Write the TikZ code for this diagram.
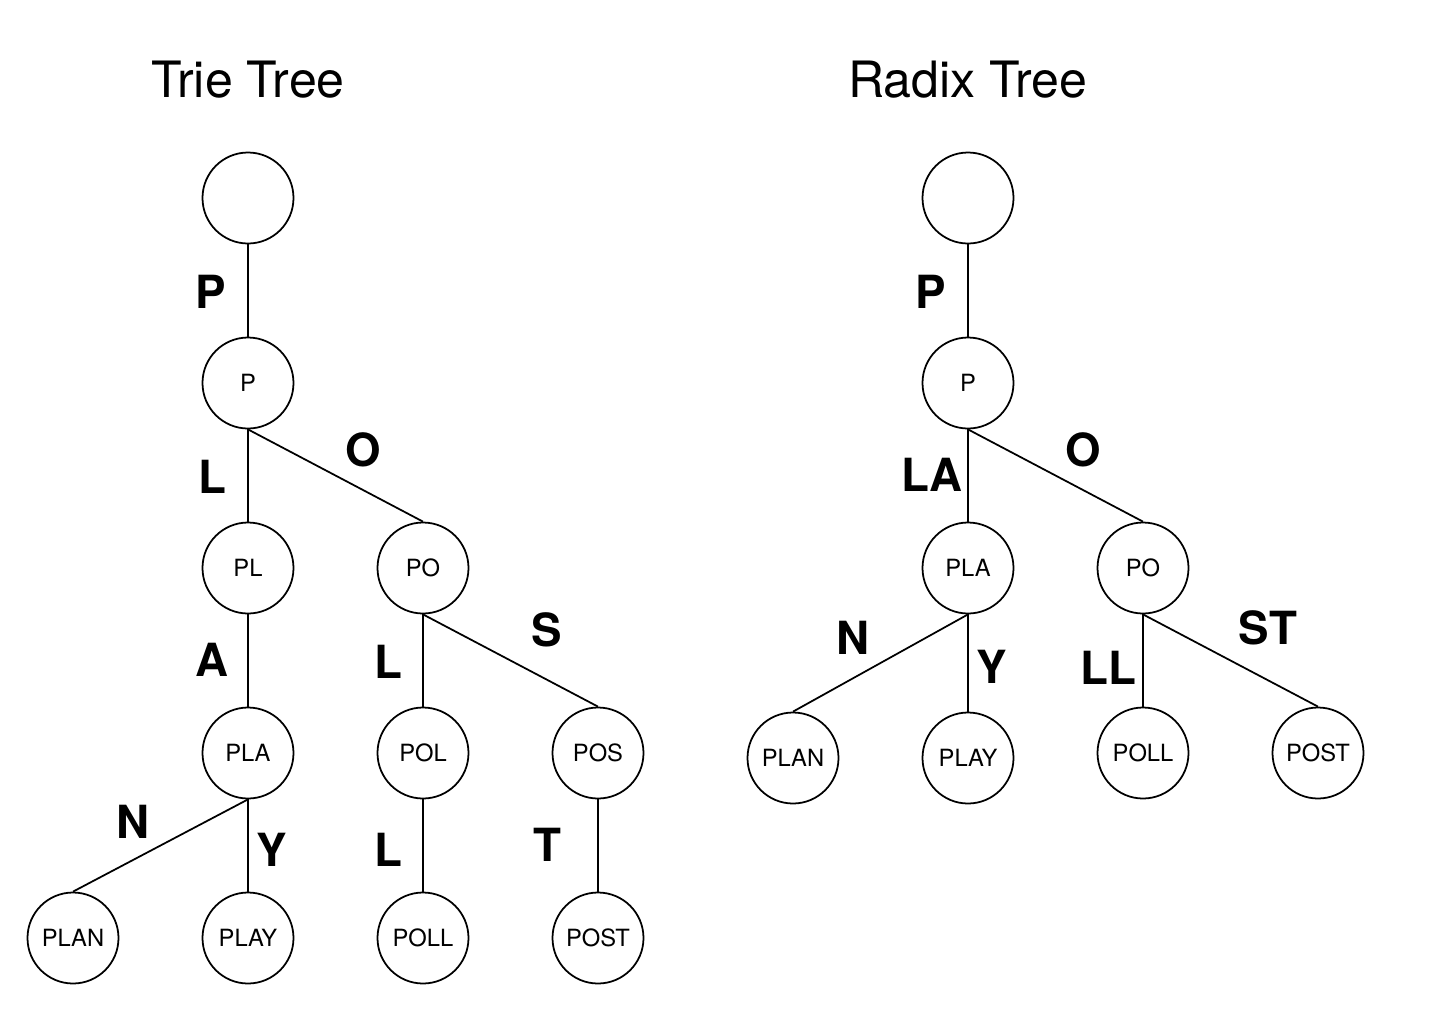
\documentclass[tikz,border=0pt]{standalone}
\usepackage{fontspec}
\setmainfont{TeX Gyre Heros}
\usetikzlibrary{positioning}
\begin{document}
\begin{tikzpicture}[node distance={37mm and 35mm}, on grid,
  main/.style = {draw, circle, minimum size=18.2mm, inner sep=0pt, line width=1pt, font=\fontsize{13.5}{13.5}\selectfont},
  lbl/.style = {font=\fontsize{26}{26}\selectfont\bfseries},
  title/.style = {font=\fontsize{28.5}{28.5}\selectfont},
  every path/.style = {line width=1pt}]
\useasboundingbox (-4.96,3.96) rectangle (23.96,-16.32);

% Trie Tree
\node[title] (t1) at (0,2.36) {Trie Tree};
\node[main] (r) at (0,0) {};
\node[main] (p) [below=of r] {P};
\node[main] (pl) [below=of p] {PL};
\node[main] (po) [right=of pl] {PO};
\node[main] (pla) [below=of pl] {PLA};
\node[main] (pol) [below=of po] {POL};
\node[main] (pos) [right=of pol] {POS};
\node[main] (plan) [below left=of pla] {PLAN};
\node[main] (play) [below=of pla] {PLAY};
\node[main] (poll) [below=of pol] {POLL};
\node[main] (post) [below=of pos] {POST};

\draw (r) -- (p);
\draw (p.south) -- (pl.north);
\draw (p.south) -- (po.north);
\draw (pl) -- (pla);
\draw (po.south) -- (pol.north);
\draw (po.south) -- (pos.north);
\draw (pla.south) -- (plan.north);
\draw (pla) -- (play);
\draw (pol) -- (poll);
\draw (pos) -- (post);

\node[lbl] (lp) at (-0.74,-1.88) {P};
\node[lbl] (ll) at (-0.72,-5.58) {L};
\node[lbl] (lo) at (2.30,-5.04) {O};
\node[lbl] (la) at (-0.72,-9.24) {A};
\node[lbl] (ll2) at (2.80,-9.28) {L};
\node[lbl] (ls) at (5.98,-8.64) {S};
\node[lbl] (ln) at (-2.30,-12.48) {N};
\node[lbl] (ly) at (0.48,-13.04) {Y};
\node[lbl] (ll3) at (2.80,-13.04) {L};
\node[lbl] (lt) at (5.98,-12.94) {T};

% Radix Tree
\node[title] (t2) at (14.4,2.36) {Radix Tree};
\node[main] (rr) at (14.4,0) {};
\node[main] (rp) [below=of rr] {P};
\node[main] (rpla) [below=of rp] {PLA};
\node[main] (rpo) [right=of rpla] {PO};
\node[main] (rplan) [below left=of rpla, yshift=-1mm] {PLAN};
\node[main] (rplay) [below=of rpla, yshift=-1mm] {PLAY};
\node[main] (rpoll) [below=of rpo] {POLL};
\node[main] (rpost) [right=of rpoll] {POST};

\draw (rr) -- (rp);
\draw (rp.south) -- (rpla.north);
\draw (rp.south) -- (rpo.north);
\draw (rpla.south) -- (rplan.north);
\draw (rpla) -- (rplay);
\draw (rpo.south) -- (rpoll.north);
\draw (rpo.south) -- (rpost.north);

\node[lbl] (rlp) at (13.66,-1.88) {P};
\node[lbl] (rlla) at (13.68,-5.54) {LA};
\node[lbl] (rlo) at (16.70,-5.04) {O};
\node[lbl] (rln) at (12.10,-8.80) {N};
\node[lbl] (rly) at (14.88,-9.38) {Y};
\node[lbl] (rlll) at (17.20,-9.40) {LL};
\node[lbl] (rlst) at (20.40,-8.60) {ST};
\end{tikzpicture}
\end{document}
